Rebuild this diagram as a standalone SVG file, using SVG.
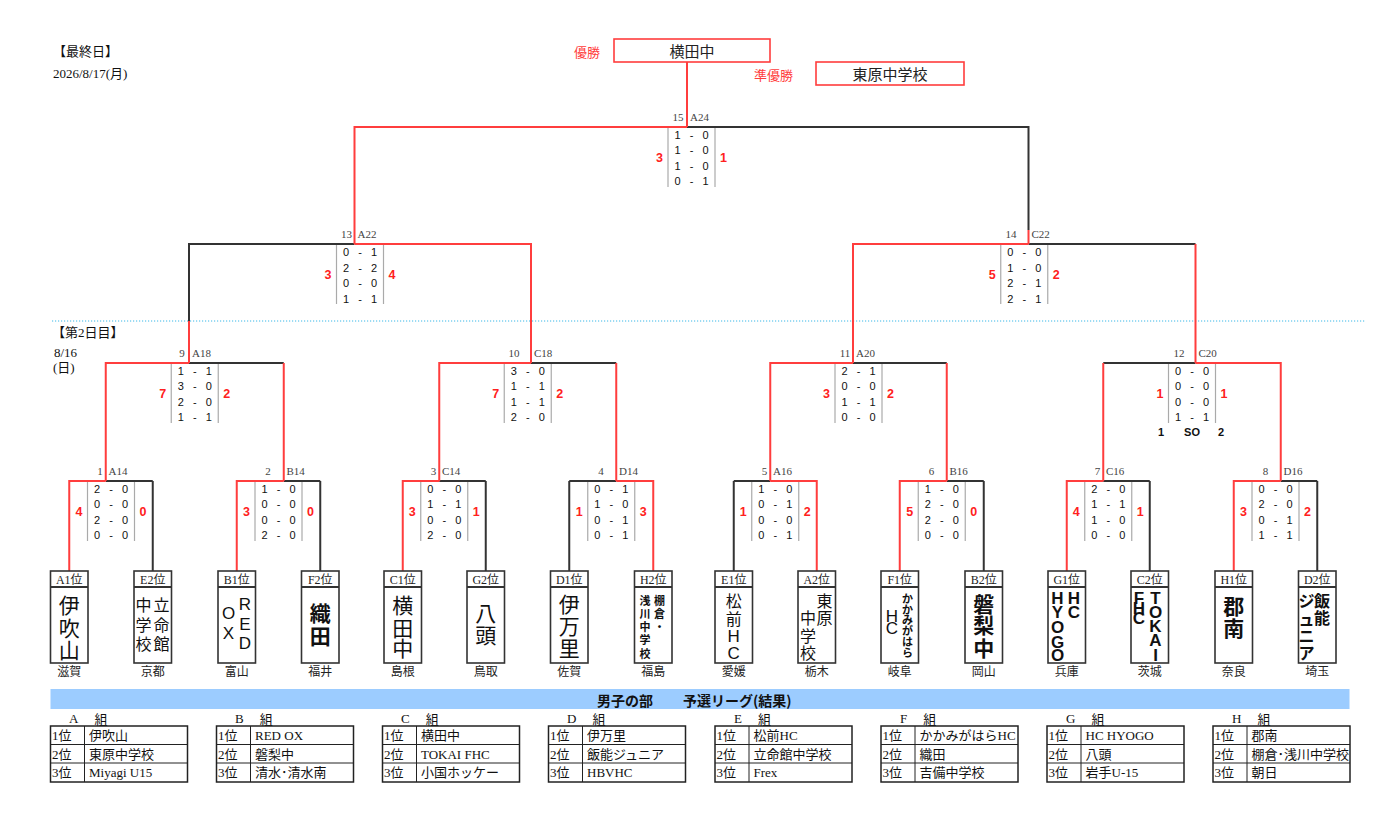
<svg xmlns="http://www.w3.org/2000/svg" width="1400" height="833" viewBox="0 0 1400 833">
<style>
.bg{fill:#fff}
.r{stroke:#ff3d3d;stroke-width:2;fill:none}
.k{stroke:#333;stroke-width:2;fill:none}
.sb{stroke:#aaa;stroke-width:1.2}
.mn{font-family:"Liberation Serif","Noto Sans CJK JP",serif;font-size:11px;fill:#444;dominant-baseline:central}
.mid{text-anchor:middle}
.sc{font-family:"Liberation Sans",Arial,sans-serif;font-size:11px;fill:#111;text-anchor:middle;dominant-baseline:central}
.sd{font-family:"Liberation Sans",Arial,sans-serif;font-size:12.5px;font-weight:bold;fill:#ff2020;text-anchor:middle;dominant-baseline:central}
.so{font-family:"Liberation Sans",Arial,sans-serif;font-size:11px;font-weight:bold;fill:#111;text-anchor:middle;dominant-baseline:central}
.hd{font-family:"Liberation Serif","Noto Sans CJK JP",serif;font-size:13px;fill:#111;dominant-baseline:central}
.rl{font-family:"Noto Sans CJK JP",sans-serif;font-size:13px;fill:#ff3d3d;text-anchor:middle;dominant-baseline:central}
.wb{fill:#fff;stroke:#ff3d3d;stroke-width:1.6}
.wt{font-family:"Noto Sans CJK JP",sans-serif;font-size:15px;fill:#222;text-anchor:middle;dominant-baseline:central}
.tb{fill:#fff;stroke:#333;stroke-width:1.6}
.tl{font-family:"Liberation Serif","Noto Sans CJK JP",serif;font-size:12px;fill:#222;text-anchor:middle;dominant-baseline:central}
.nb{font-family:"Noto Sans CJK JP",sans-serif;font-size:21px;fill:#111;text-anchor:middle;dominant-baseline:central}
.nm{font-family:"Noto Sans CJK JP",sans-serif;font-size:16px;fill:#111;text-anchor:middle;dominant-baseline:central}
.nl{font-family:"Liberation Sans",Arial,sans-serif;font-size:17px;fill:#111;text-anchor:middle;dominant-baseline:central}
.ns{font-family:"Noto Sans CJK JP",sans-serif;font-size:11px;font-weight:bold;fill:#111;text-anchor:middle;dominant-baseline:central}
.pf{font-family:"Liberation Serif","Noto Sans CJK JP",serif;font-size:12px;fill:#222;text-anchor:middle;dominant-baseline:central}
.ban{fill:#9cccff}
.bt{font-family:"Noto Sans CJK JP",sans-serif;font-size:14px;font-weight:bold;fill:#111;dominant-baseline:central}
.gt{fill:#fff;stroke:#222;stroke-width:1.5}
.gl{stroke:#222;stroke-width:1}
.tt{font-family:"Liberation Serif","Noto Sans CJK JP",serif;font-size:13px;fill:#111;dominant-baseline:central}
</style>
<rect class="bg" x="0" y="0" width="1400" height="833"/>

<g id="header">
<text class="hd" x="53" y="51.5">【最終日】</text>
<text class="hd" x="53" y="73.5">2026/8/17(月)</text>
<line x1="52" y1="321" x2="1365" y2="321" stroke="#3bb8e8" stroke-width="1" stroke-dasharray="1.2 1.8"/>
<text class="hd" x="52" y="332.5">【第2日目】</text>
<text class="hd" x="54" y="352">8/16</text>
<text class="hd" x="53" y="367.5" font-size="12">(日)</text>
</g>

<g id="winner">
<text class="rl" x="587" y="51">優勝</text>
<rect class="wb" x="614" y="39" width="156" height="23"/>
<text class="wt" x="692" y="50.7">横田中</text>
</g>
<g id="runnerup">
<text class="rl" x="773.5" y="74.3">準優勝</text>
<rect class="wb" x="816" y="62" width="148" height="23"/>
<text class="wt" x="890" y="73.7">東原中学校</text>
</g>

<g id="connectors">
<!-- black segments -->
<path class="k" d="M152.75,481V571 M320.25,481V571 M485.75,481V571 M569.25,481V571 M733.75,481V571 M983.75,481V571 M1149.75,481V571 M1317.25,481V571"/>
<path class="k" d="M105.75,481H152.75 M283.75,481H320.25 M439.25,481H485.75 M569.25,481H616.25 M733.75,481H770.25 M946.75,481H983.75 M1103.25,481H1149.75 M1280.75,481H1317.25"/>
<path class="k" d="M189,363H283.75 M531,363H616.25 M853,363H946.75 M1103.25,363H1195.5"/>
<path class="k" d="M189,321V244H354.5 M1028.5,244H1195.5 M1028.5,230V127H687"/>
<!-- red segments -->
<path class="r" d="M69.25,571V481H105.75 M236.75,571V481H283.75 M402.75,571V481H439.25 M653.25,571V481H616.25 M816.75,571V481H770.25 M899.75,571V481H946.75 M1066.75,571V481H1103.25 M1233.75,571V481H1280.75"/>
<path class="r" d="M105.75,481V363H189 M283.75,481V363 M439.25,481V363H531 M616.25,481V363 M770.25,481V363H853 M946.75,481V363 M1103.25,481V363 M1280.75,481V363H1195.5"/>
<path class="r" d="M189,363V321 M531,363V244H354.5 M853,363V244H1028.5 M1195.5,363V244"/>
<path class="r" d="M354.5,244V127H687 M1028.5,244V230 M687,127V62"/>
</g>

<g id="m15">
<text class="mn mid" x="678" y="117">15</text><text class="mn" x="690" y="117">A24</text>
<line class="sb" x1="668" y1="128" x2="668" y2="187"/><line class="sb" x1="715" y1="128" x2="715" y2="187"/>
<text class="sc" y="134.5"><tspan x="677.5">1</tspan><tspan x="691.5">-</tspan><tspan x="705.5">0</tspan></text>
<text class="sc" y="150"><tspan x="677.5">1</tspan><tspan x="691.5">-</tspan><tspan x="705.5">0</tspan></text>
<text class="sc" y="165.5"><tspan x="677.5">1</tspan><tspan x="691.5">-</tspan><tspan x="705.5">0</tspan></text>
<text class="sc" y="181"><tspan x="677.5">0</tspan><tspan x="691.5">-</tspan><tspan x="705.5">1</tspan></text>
<text class="sd" x="659.5" y="157.5">3</text><text class="sd" x="723.5" y="157.5">1</text>
</g>

<g id="m13">
<text class="mn mid" x="346.5" y="234">13</text><text class="mn" x="357.5" y="234">A22</text>
<line class="sb" x1="336.5" y1="245" x2="336.5" y2="304"/><line class="sb" x1="383.5" y1="245" x2="383.5" y2="304"/>
<text class="sc" y="252"><tspan x="346">0</tspan><tspan x="360">-</tspan><tspan x="374">1</tspan></text>
<text class="sc" y="267.5"><tspan x="346">2</tspan><tspan x="360">-</tspan><tspan x="374">2</tspan></text>
<text class="sc" y="283"><tspan x="346">0</tspan><tspan x="360">-</tspan><tspan x="374">0</tspan></text>
<text class="sc" y="298.5"><tspan x="346">1</tspan><tspan x="360">-</tspan><tspan x="374">1</tspan></text>
<text class="sd" x="328" y="275">3</text><text class="sd" x="392" y="275">4</text>
</g>

<g id="m14">
<text class="mn mid" x="1011" y="234">14</text><text class="mn" x="1031.5" y="234">C22</text>
<line class="sb" x1="1000.75" y1="245" x2="1000.75" y2="304"/><line class="sb" x1="1047.75" y1="245" x2="1047.75" y2="304"/>
<text class="sc" y="252"><tspan x="1010.25">0</tspan><tspan x="1024.25">-</tspan><tspan x="1038.25">0</tspan></text>
<text class="sc" y="267.5"><tspan x="1010.25">1</tspan><tspan x="1024.25">-</tspan><tspan x="1038.25">0</tspan></text>
<text class="sc" y="283"><tspan x="1010.25">2</tspan><tspan x="1024.25">-</tspan><tspan x="1038.25">1</tspan></text>
<text class="sc" y="298.5"><tspan x="1010.25">2</tspan><tspan x="1024.25">-</tspan><tspan x="1038.25">1</tspan></text>
<text class="sd" x="992.25" y="275">5</text><text class="sd" x="1056.25" y="275">2</text>
</g>

<g id="m9">
<text class="mn mid" x="182" y="353">9</text><text class="mn" x="192" y="353">A18</text>
<line class="sb" x1="171.25" y1="364" x2="171.25" y2="423"/><line class="sb" x1="218.25" y1="364" x2="218.25" y2="423"/>
<text class="sc" y="370.5"><tspan x="180.75">1</tspan><tspan x="194.75">-</tspan><tspan x="208.75">1</tspan></text>
<text class="sc" y="386"><tspan x="180.75">3</tspan><tspan x="194.75">-</tspan><tspan x="208.75">0</tspan></text>
<text class="sc" y="401.5"><tspan x="180.75">2</tspan><tspan x="194.75">-</tspan><tspan x="208.75">0</tspan></text>
<text class="sc" y="417"><tspan x="180.75">1</tspan><tspan x="194.75">-</tspan><tspan x="208.75">1</tspan></text>
<text class="sd" x="162.75" y="393.5">7</text><text class="sd" x="226.75" y="393.5">2</text>
</g>

<g id="m10">
<text class="mn mid" x="514" y="353">10</text><text class="mn" x="534" y="353">C18</text>
<line class="sb" x1="504.25" y1="364" x2="504.25" y2="423"/><line class="sb" x1="551.25" y1="364" x2="551.25" y2="423"/>
<text class="sc" y="370.5"><tspan x="513.75">3</tspan><tspan x="527.75">-</tspan><tspan x="541.75">0</tspan></text>
<text class="sc" y="386"><tspan x="513.75">1</tspan><tspan x="527.75">-</tspan><tspan x="541.75">1</tspan></text>
<text class="sc" y="401.5"><tspan x="513.75">1</tspan><tspan x="527.75">-</tspan><tspan x="541.75">1</tspan></text>
<text class="sc" y="417"><tspan x="513.75">2</tspan><tspan x="527.75">-</tspan><tspan x="541.75">0</tspan></text>
<text class="sd" x="495.75" y="393.5">7</text><text class="sd" x="559.75" y="393.5">2</text>
</g>

<g id="m11">
<text class="mn mid" x="845" y="353">11</text><text class="mn" x="856" y="353">A20</text>
<line class="sb" x1="835" y1="364" x2="835" y2="423"/><line class="sb" x1="882" y1="364" x2="882" y2="423"/>
<text class="sc" y="370.5"><tspan x="844.5">2</tspan><tspan x="858.5">-</tspan><tspan x="872.5">1</tspan></text>
<text class="sc" y="386"><tspan x="844.5">0</tspan><tspan x="858.5">-</tspan><tspan x="872.5">0</tspan></text>
<text class="sc" y="401.5"><tspan x="844.5">1</tspan><tspan x="858.5">-</tspan><tspan x="872.5">1</tspan></text>
<text class="sc" y="417"><tspan x="844.5">0</tspan><tspan x="858.5">-</tspan><tspan x="872.5">0</tspan></text>
<text class="sd" x="826.5" y="393.5">3</text><text class="sd" x="890.5" y="393.5">2</text>
</g>

<g id="m12">
<text class="mn mid" x="1179" y="353">12</text><text class="mn" x="1198.5" y="353">C20</text>
<line class="sb" x1="1168.5" y1="364" x2="1168.5" y2="423"/><line class="sb" x1="1215.5" y1="364" x2="1215.5" y2="423"/>
<text class="sc" y="370.5"><tspan x="1178">0</tspan><tspan x="1192">-</tspan><tspan x="1206">0</tspan></text>
<text class="sc" y="386"><tspan x="1178">0</tspan><tspan x="1192">-</tspan><tspan x="1206">0</tspan></text>
<text class="sc" y="401.5"><tspan x="1178">0</tspan><tspan x="1192">-</tspan><tspan x="1206">0</tspan></text>
<text class="sc" y="417"><tspan x="1178">1</tspan><tspan x="1192">-</tspan><tspan x="1206">1</tspan></text>
<text class="sd" x="1160" y="393.5">1</text><text class="sd" x="1224" y="393.5">1</text>
<text class="so" y="432"><tspan x="1161">1</tspan><tspan x="1192">SO</tspan><tspan x="1221">2</tspan></text>
</g>

<g id="m1">
<text class="mn mid" x="100" y="471">1</text><text class="mn" x="108.5" y="471">A14</text>
<line class="sb" x1="87.5" y1="482" x2="87.5" y2="541"/><line class="sb" x1="134.5" y1="482" x2="134.5" y2="541"/>
<text class="sc" y="488.5"><tspan x="97">2</tspan><tspan x="111">-</tspan><tspan x="125">0</tspan></text>
<text class="sc" y="504"><tspan x="97">0</tspan><tspan x="111">-</tspan><tspan x="125">0</tspan></text>
<text class="sc" y="519.5"><tspan x="97">2</tspan><tspan x="111">-</tspan><tspan x="125">0</tspan></text>
<text class="sc" y="535"><tspan x="97">0</tspan><tspan x="111">-</tspan><tspan x="125">0</tspan></text>
<text class="sd" x="79" y="511.5">4</text><text class="sd" x="143" y="511.5">0</text>
</g>

<g id="m2">
<text class="mn mid" x="268" y="471">2</text><text class="mn" x="286.5" y="471">B14</text>
<line class="sb" x1="255" y1="482" x2="255" y2="541"/><line class="sb" x1="302" y1="482" x2="302" y2="541"/>
<text class="sc" y="488.5"><tspan x="264.5">1</tspan><tspan x="278.5">-</tspan><tspan x="292.5">0</tspan></text>
<text class="sc" y="504"><tspan x="264.5">0</tspan><tspan x="278.5">-</tspan><tspan x="292.5">0</tspan></text>
<text class="sc" y="519.5"><tspan x="264.5">0</tspan><tspan x="278.5">-</tspan><tspan x="292.5">0</tspan></text>
<text class="sc" y="535"><tspan x="264.5">2</tspan><tspan x="278.5">-</tspan><tspan x="292.5">0</tspan></text>
<text class="sd" x="246.5" y="511.5">3</text><text class="sd" x="310.5" y="511.5">0</text>
</g>

<g id="m3">
<text class="mn mid" x="433.5" y="471">3</text><text class="mn" x="442" y="471">C14</text>
<line class="sb" x1="420.75" y1="482" x2="420.75" y2="541"/><line class="sb" x1="467.75" y1="482" x2="467.75" y2="541"/>
<text class="sc" y="488.5"><tspan x="430.25">0</tspan><tspan x="444.25">-</tspan><tspan x="458.25">0</tspan></text>
<text class="sc" y="504"><tspan x="430.25">1</tspan><tspan x="444.25">-</tspan><tspan x="458.25">1</tspan></text>
<text class="sc" y="519.5"><tspan x="430.25">0</tspan><tspan x="444.25">-</tspan><tspan x="458.25">0</tspan></text>
<text class="sc" y="535"><tspan x="430.25">2</tspan><tspan x="444.25">-</tspan><tspan x="458.25">0</tspan></text>
<text class="sd" x="412.25" y="511.5">3</text><text class="sd" x="476.25" y="511.5">1</text>
</g>

<g id="m4">
<text class="mn mid" x="601" y="471">4</text><text class="mn" x="619" y="471">D14</text>
<line class="sb" x1="587.75" y1="482" x2="587.75" y2="541"/><line class="sb" x1="634.75" y1="482" x2="634.75" y2="541"/>
<text class="sc" y="488.5"><tspan x="597.25">0</tspan><tspan x="611.25">-</tspan><tspan x="625.25">1</tspan></text>
<text class="sc" y="504"><tspan x="597.25">1</tspan><tspan x="611.25">-</tspan><tspan x="625.25">0</tspan></text>
<text class="sc" y="519.5"><tspan x="597.25">0</tspan><tspan x="611.25">-</tspan><tspan x="625.25">1</tspan></text>
<text class="sc" y="535"><tspan x="597.25">0</tspan><tspan x="611.25">-</tspan><tspan x="625.25">1</tspan></text>
<text class="sd" x="579.25" y="511.5">1</text><text class="sd" x="643.25" y="511.5">3</text>
</g>

<g id="m5">
<text class="mn mid" x="764.5" y="471">5</text><text class="mn" x="773" y="471">A16</text>
<line class="sb" x1="751.75" y1="482" x2="751.75" y2="541"/><line class="sb" x1="798.75" y1="482" x2="798.75" y2="541"/>
<text class="sc" y="488.5"><tspan x="761.25">1</tspan><tspan x="775.25">-</tspan><tspan x="789.25">0</tspan></text>
<text class="sc" y="504"><tspan x="761.25">0</tspan><tspan x="775.25">-</tspan><tspan x="789.25">1</tspan></text>
<text class="sc" y="519.5"><tspan x="761.25">0</tspan><tspan x="775.25">-</tspan><tspan x="789.25">0</tspan></text>
<text class="sc" y="535"><tspan x="761.25">0</tspan><tspan x="775.25">-</tspan><tspan x="789.25">1</tspan></text>
<text class="sd" x="743.25" y="511.5">1</text><text class="sd" x="807.25" y="511.5">2</text>
</g>

<g id="m6">
<text class="mn mid" x="931.5" y="471">6</text><text class="mn" x="949.5" y="471">B16</text>
<line class="sb" x1="918.25" y1="482" x2="918.25" y2="541"/><line class="sb" x1="965.25" y1="482" x2="965.25" y2="541"/>
<text class="sc" y="488.5"><tspan x="927.75">1</tspan><tspan x="941.75">-</tspan><tspan x="955.75">0</tspan></text>
<text class="sc" y="504"><tspan x="927.75">2</tspan><tspan x="941.75">-</tspan><tspan x="955.75">0</tspan></text>
<text class="sc" y="519.5"><tspan x="927.75">2</tspan><tspan x="941.75">-</tspan><tspan x="955.75">0</tspan></text>
<text class="sc" y="535"><tspan x="927.75">0</tspan><tspan x="941.75">-</tspan><tspan x="955.75">0</tspan></text>
<text class="sd" x="909.75" y="511.5">5</text><text class="sd" x="973.75" y="511.5">0</text>
</g>

<g id="m7">
<text class="mn mid" x="1097.5" y="471">7</text><text class="mn" x="1106" y="471">C16</text>
<line class="sb" x1="1084.75" y1="482" x2="1084.75" y2="541"/><line class="sb" x1="1131.75" y1="482" x2="1131.75" y2="541"/>
<text class="sc" y="488.5"><tspan x="1094.25">2</tspan><tspan x="1108.25">-</tspan><tspan x="1122.25">0</tspan></text>
<text class="sc" y="504"><tspan x="1094.25">1</tspan><tspan x="1108.25">-</tspan><tspan x="1122.25">1</tspan></text>
<text class="sc" y="519.5"><tspan x="1094.25">1</tspan><tspan x="1108.25">-</tspan><tspan x="1122.25">0</tspan></text>
<text class="sc" y="535"><tspan x="1094.25">0</tspan><tspan x="1108.25">-</tspan><tspan x="1122.25">0</tspan></text>
<text class="sd" x="1076.25" y="511.5">4</text><text class="sd" x="1140.25" y="511.5">1</text>
</g>

<g id="m8">
<text class="mn mid" x="1265.5" y="471">8</text><text class="mn" x="1283.5" y="471">D16</text>
<line class="sb" x1="1252" y1="482" x2="1252" y2="541"/><line class="sb" x1="1299" y1="482" x2="1299" y2="541"/>
<text class="sc" y="488.5"><tspan x="1261.5">0</tspan><tspan x="1275.5">-</tspan><tspan x="1289.5">0</tspan></text>
<text class="sc" y="504"><tspan x="1261.5">2</tspan><tspan x="1275.5">-</tspan><tspan x="1289.5">0</tspan></text>
<text class="sc" y="519.5"><tspan x="1261.5">0</tspan><tspan x="1275.5">-</tspan><tspan x="1289.5">1</tspan></text>
<text class="sc" y="535"><tspan x="1261.5">1</tspan><tspan x="1275.5">-</tspan><tspan x="1289.5">1</tspan></text>
<text class="sd" x="1243.5" y="511.5">3</text><text class="sd" x="1307.5" y="511.5">2</text>
</g>

<g id="team-A1">
<rect class="tb" x="50.5" y="571" width="37.5" height="92"/><line class="k" x1="50.5" y1="587" x2="88" y2="587" stroke-width="1.2"/>
<text class="tl" x="69.25" y="579.5">A1位</text>
<text class="nb"><tspan x="69.25" y="604">伊</tspan><tspan x="69.25" y="626.5">吹</tspan><tspan x="69.25" y="648.5">山</tspan></text>
<text class="pf" x="69.25" y="672">滋賀</text>
</g>
<g id="team-E2">
<rect class="tb" x="134" y="571" width="37.5" height="92"/><line class="k" x1="134" y1="587" x2="171.5" y2="587" stroke-width="1.2"/>
<text class="tl" x="152.75" y="579.5">E2位</text>
<text class="nm"><tspan x="161.5" y="604">立</tspan><tspan x="161.5" y="623.5">命</tspan><tspan x="161.5" y="643">館</tspan><tspan x="143.5" y="604">中</tspan><tspan x="143.5" y="623.5">学</tspan><tspan x="143.5" y="643">校</tspan></text>
<text class="pf" x="152.75" y="672">京都</text>
</g>
<g id="team-B1">
<rect class="tb" x="218" y="571" width="37.5" height="92"/><line class="k" x1="218" y1="587" x2="255.5" y2="587" stroke-width="1.2"/>
<text class="tl" x="236.75" y="579.5">B1位</text>
<text class="nl"><tspan x="245" y="604">R</tspan><tspan x="245" y="624">E</tspan><tspan x="245" y="643">D</tspan><tspan x="228.5" y="613">O</tspan><tspan x="228.5" y="633">X</tspan></text>
<text class="pf" x="236.75" y="672">富山</text>
</g>
<g id="team-F2">
<rect class="tb" x="301.5" y="571" width="37.5" height="92"/><line class="k" x1="301.5" y1="587" x2="339" y2="587" stroke-width="1.2"/>
<text class="tl" x="320.25" y="579.5">F2位</text>
<text class="nb" font-weight="bold"><tspan x="320.25" y="612">織</tspan><tspan x="320.25" y="634.5">田</tspan></text>
<text class="pf" x="320.25" y="672">福井</text>
</g>
<g id="team-C1">
<rect class="tb" x="384" y="571" width="37.5" height="92"/><line class="k" x1="384" y1="587" x2="421.5" y2="587" stroke-width="1.2"/>
<text class="tl" x="402.75" y="579.5">C1位</text>
<text class="nb"><tspan x="402.75" y="604">横</tspan><tspan x="402.75" y="626.5">田</tspan><tspan x="402.75" y="647">中</tspan></text>
<text class="pf" x="402.75" y="672">島根</text>
</g>
<g id="team-G2">
<rect class="tb" x="467" y="571" width="37.5" height="92"/><line class="k" x1="467" y1="587" x2="504.5" y2="587" stroke-width="1.2"/>
<text class="tl" x="485.75" y="579.5">G2位</text>
<text class="nb"><tspan x="485.75" y="612">八</tspan><tspan x="485.75" y="634">頭</tspan></text>
<text class="pf" x="485.75" y="672">鳥取</text>
</g>
<g id="team-D1">
<rect class="tb" x="550.5" y="571" width="37.5" height="92"/><line class="k" x1="550.5" y1="587" x2="588" y2="587" stroke-width="1.2"/>
<text class="tl" x="569.25" y="579.5">D1位</text>
<text class="nb"><tspan x="569.25" y="603">伊</tspan><tspan x="569.25" y="625">万</tspan><tspan x="569.25" y="647">里</tspan></text>
<text class="pf" x="569.25" y="672">佐賀</text>
</g>
<g id="team-H2">
<rect class="tb" x="634.5" y="571" width="37.5" height="92"/><line class="k" x1="634.5" y1="587" x2="672" y2="587" stroke-width="1.2"/>
<text class="tl" x="653.25" y="579.5">H2位</text>
<text class="ns"><tspan x="659.5" y="600">棚</tspan><tspan x="659.5" y="612.5">倉</tspan><tspan x="659.5" y="626">・</tspan><tspan x="645" y="600">浅</tspan><tspan x="645" y="612.5">川</tspan><tspan x="645" y="625.5">中</tspan><tspan x="645" y="639">学</tspan><tspan x="645" y="652.5">校</tspan></text>
<text class="pf" x="653.25" y="672">福島</text>
</g>
<g id="team-E1">
<rect class="tb" x="715" y="571" width="37.5" height="92"/><line class="k" x1="715" y1="587" x2="752.5" y2="587" stroke-width="1.2"/>
<text class="tl" x="733.75" y="579.5">E1位</text>
<text class="nm"><tspan x="733.75" y="600">松</tspan><tspan x="733.75" y="618">前</tspan></text>
<text class="nl" font-family="Liberation Serif" font-size="16"><tspan x="733.75" y="635.5">H</tspan><tspan x="733.75" y="652.5">C</tspan></text>
<text class="pf" x="733.75" y="672">愛媛</text>
</g>
<g id="team-A2">
<rect class="tb" x="798" y="571" width="37.5" height="92"/><line class="k" x1="798" y1="587" x2="835.5" y2="587" stroke-width="1.2"/>
<text class="tl" x="816.75" y="579.5">A2位</text>
<text class="nm"><tspan x="824.5" y="599.5">東</tspan><tspan x="824.5" y="617">原</tspan><tspan x="808" y="617">中</tspan><tspan x="808" y="634.5">学</tspan><tspan x="808" y="652">校</tspan></text>
<text class="pf" x="816.75" y="672">栃木</text>
</g>
<g id="team-F1">
<rect class="tb" x="881" y="571" width="37.5" height="92"/><line class="k" x1="881" y1="587" x2="918.5" y2="587" stroke-width="1.2"/>
<text class="tl" x="899.75" y="579.5">F1位</text>
<text class="ns" font-size="10"><tspan x="907.5" y="597.5">か</tspan><tspan x="907.5" y="608.5">か</tspan><tspan x="907.5" y="619">み</tspan><tspan x="907.5" y="630">が</tspan><tspan x="907.5" y="641">は</tspan><tspan x="907.5" y="652">ら</tspan></text>
<text class="nl" font-family="Liberation Serif" font-size="11"><tspan x="892" y="616">H</tspan><tspan x="892" y="627.5">C</tspan></text>
<text class="pf" x="899.75" y="672">岐阜</text>
</g>
<g id="team-B2">
<rect class="tb" x="965" y="571" width="37.5" height="92"/><line class="k" x1="965" y1="587" x2="1002.5" y2="587" stroke-width="1.2"/>
<text class="tl" x="983.75" y="579.5">B2位</text>
<text class="nb" font-weight="bold"><tspan x="983.75" y="602.5">磐</tspan><tspan x="983.75" y="624">梨</tspan><tspan x="983.75" y="646.5">中</tspan></text>
<text class="pf" x="983.75" y="672">岡山</text>
</g>
<g id="team-G1">
<rect class="tb" x="1048" y="571" width="37.5" height="92"/><line class="k" x1="1048" y1="587" x2="1085.5" y2="587" stroke-width="1.2"/>
<text class="tl" x="1066.75" y="579.5">G1位</text>
<text class="nl" font-size="12" font-weight="bold"><tspan x="1074" y="597.5">H</tspan><tspan x="1074" y="612">C</tspan><tspan x="1057.5" y="597.5">H</tspan><tspan x="1057.5" y="612">Y</tspan><tspan x="1057.5" y="627">O</tspan><tspan x="1057.5" y="641.5">G</tspan><tspan x="1057.5" y="655">O</tspan></text>
<text class="pf" x="1066.75" y="672">兵庫</text>
</g>
<g id="team-C2">
<rect class="tb" x="1131" y="571" width="37.5" height="92"/><line class="k" x1="1131" y1="587" x2="1168.5" y2="587" stroke-width="1.2"/>
<text class="tl" x="1149.75" y="579.5">C2位</text>
<text class="nl" font-size="11.5" font-weight="bold"><tspan x="1155.5" y="598">T</tspan><tspan x="1155.5" y="612">O</tspan><tspan x="1155.5" y="626">K</tspan><tspan x="1155.5" y="640">A</tspan><tspan x="1155.5" y="654.5">I</tspan></text>
<text class="nl" font-size="9" font-weight="bold"><tspan x="1139" y="598">F</tspan><tspan x="1139" y="608">H</tspan><tspan x="1139" y="618">C</tspan></text>
<text class="pf" x="1149.75" y="672">茨城</text>
</g>
<g id="team-H1">
<rect class="tb" x="1215" y="571" width="37.5" height="92"/><line class="k" x1="1215" y1="587" x2="1252.5" y2="587" stroke-width="1.2"/>
<text class="tl" x="1233.75" y="579.5">H1位</text>
<text class="nb" font-weight="bold"><tspan x="1233.75" y="605">郡</tspan><tspan x="1233.75" y="627">南</tspan></text>
<text class="pf" x="1233.75" y="672">奈良</text>
</g>
<g id="team-D2">
<rect class="tb" x="1298.5" y="571" width="37.5" height="92"/><line class="k" x1="1298.5" y1="587" x2="1336" y2="587" stroke-width="1.2"/>
<text class="tl" x="1317.25" y="579.5">D2位</text>
<text class="nm" font-size="14" font-weight="bold"><tspan x="1322" y="599.5">飯</tspan><tspan x="1322" y="617">能</tspan><tspan x="1306.5" y="599.5">ジ</tspan><tspan x="1306.5" y="618">ュ</tspan><tspan x="1306.5" y="635">ニ</tspan><tspan x="1306.5" y="652">ア</tspan></text>
<text class="pf" x="1317.25" y="672">埼玉</text>
</g>

<g id="banner">
<rect class="ban" x="50.5" y="689" width="1299" height="20"/>
<text class="bt" y="699.5"><tspan x="597">男子の部</tspan><tspan x="683">予選リーグ(結果)</tspan></text>
</g>

<g id="group-A">
<text class="tt" x="69" y="718.5">A<tspan dx="16">組</tspan></text>
<rect class="gt" x="50.5" y="726" width="137" height="56"/>
<line class="gl" x1="50.5" y1="744.5" x2="187.5" y2="744.5"/><line class="gl" x1="50.5" y1="763" x2="187.5" y2="763"/><line class="gl" x1="84.5" y1="726" x2="84.5" y2="782"/>
<text class="tt" x="52" y="735.5">1位</text><text class="tt" x="89" y="735.5">伊吹山</text>
<text class="tt" x="52" y="754">2位</text><text class="tt" x="89" y="754">東原中学校</text>
<text class="tt" x="52" y="772.5">3位</text><text class="tt" x="89" y="772.5">Miyagi U15</text>
</g>
<g id="group-B">
<text class="tt" x="235" y="718.5">B<tspan dx="16">組</tspan></text>
<rect class="gt" x="216.5" y="726" width="137" height="56"/>
<line class="gl" x1="216.5" y1="744.5" x2="353.5" y2="744.5"/><line class="gl" x1="216.5" y1="763" x2="353.5" y2="763"/><line class="gl" x1="250.5" y1="726" x2="250.5" y2="782"/>
<text class="tt" x="218" y="735.5">1位</text><text class="tt" x="255" y="735.5">RED OX</text>
<text class="tt" x="218" y="754">2位</text><text class="tt" x="255" y="754">磐梨中</text>
<text class="tt" x="218" y="772.5">3位</text><text class="tt" x="255" y="772.5">清水･清水南</text>
</g>
<g id="group-C">
<text class="tt" x="401" y="718.5">C<tspan dx="16">組</tspan></text>
<rect class="gt" x="382.5" y="726" width="137" height="56"/>
<line class="gl" x1="382.5" y1="744.5" x2="519.5" y2="744.5"/><line class="gl" x1="382.5" y1="763" x2="519.5" y2="763"/><line class="gl" x1="416.5" y1="726" x2="416.5" y2="782"/>
<text class="tt" x="384" y="735.5">1位</text><text class="tt" x="421" y="735.5">横田中</text>
<text class="tt" x="384" y="754">2位</text><text class="tt" x="421" y="754">TOKAI FHC</text>
<text class="tt" x="384" y="772.5">3位</text><text class="tt" x="421" y="772.5">小国ホッケー</text>
</g>
<g id="group-D">
<text class="tt" x="567" y="718.5">D<tspan dx="16">組</tspan></text>
<rect class="gt" x="548.5" y="726" width="137" height="56"/>
<line class="gl" x1="548.5" y1="744.5" x2="685.5" y2="744.5"/><line class="gl" x1="548.5" y1="763" x2="685.5" y2="763"/><line class="gl" x1="582.5" y1="726" x2="582.5" y2="782"/>
<text class="tt" x="550" y="735.5">1位</text><text class="tt" x="587" y="735.5">伊万里</text>
<text class="tt" x="550" y="754">2位</text><text class="tt" x="587" y="754">飯能ジュニア</text>
<text class="tt" x="550" y="772.5">3位</text><text class="tt" x="587" y="772.5">HBVHC</text>
</g>
<g id="group-E">
<text class="tt" x="734" y="718.5">E<tspan dx="16">組</tspan></text>
<rect class="gt" x="715" y="726" width="137" height="56"/>
<line class="gl" x1="715" y1="744.5" x2="852" y2="744.5"/><line class="gl" x1="715" y1="763" x2="852" y2="763"/><line class="gl" x1="749" y1="726" x2="749" y2="782"/>
<text class="tt" x="716.5" y="735.5">1位</text><text class="tt" x="753.5" y="735.5">松前HC</text>
<text class="tt" x="716.5" y="754">2位</text><text class="tt" x="753.5" y="754">立命館中学校</text>
<text class="tt" x="716.5" y="772.5">3位</text><text class="tt" x="753.5" y="772.5">Frex</text>
</g>
<g id="group-F">
<text class="tt" x="900" y="718.5">F<tspan dx="16">組</tspan></text>
<rect class="gt" x="881" y="726" width="137" height="56"/>
<line class="gl" x1="881" y1="744.5" x2="1018" y2="744.5"/><line class="gl" x1="881" y1="763" x2="1018" y2="763"/><line class="gl" x1="915" y1="726" x2="915" y2="782"/>
<text class="tt" x="882.5" y="735.5">1位</text><text class="tt" x="919.5" y="735.5">かかみがはらHC</text>
<text class="tt" x="882.5" y="754">2位</text><text class="tt" x="919.5" y="754">織田</text>
<text class="tt" x="882.5" y="772.5">3位</text><text class="tt" x="919.5" y="772.5">吉備中学校</text>
</g>
<g id="group-G">
<text class="tt" x="1066" y="718.5">G<tspan dx="16">組</tspan></text>
<rect class="gt" x="1047" y="726" width="137" height="56"/>
<line class="gl" x1="1047" y1="744.5" x2="1184" y2="744.5"/><line class="gl" x1="1047" y1="763" x2="1184" y2="763"/><line class="gl" x1="1081" y1="726" x2="1081" y2="782"/>
<text class="tt" x="1048.5" y="735.5">1位</text><text class="tt" x="1085.5" y="735.5">HC HYOGO</text>
<text class="tt" x="1048.5" y="754">2位</text><text class="tt" x="1085.5" y="754">八頭</text>
<text class="tt" x="1048.5" y="772.5">3位</text><text class="tt" x="1085.5" y="772.5">岩手U-15</text>
</g>
<g id="group-H">
<text class="tt" x="1232" y="718.5">H<tspan dx="16">組</tspan></text>
<rect class="gt" x="1213" y="726" width="137" height="56"/>
<line class="gl" x1="1213" y1="744.5" x2="1350" y2="744.5"/><line class="gl" x1="1213" y1="763" x2="1350" y2="763"/><line class="gl" x1="1247" y1="726" x2="1247" y2="782"/>
<text class="tt" x="1214.5" y="735.5">1位</text><text class="tt" x="1251.5" y="735.5">郡南</text>
<text class="tt" x="1214.5" y="754">2位</text><text class="tt" x="1251.5" y="754">棚倉･浅川中学校</text>
<text class="tt" x="1214.5" y="772.5">3位</text><text class="tt" x="1251.5" y="772.5">朝日</text>
</g>
</svg>
